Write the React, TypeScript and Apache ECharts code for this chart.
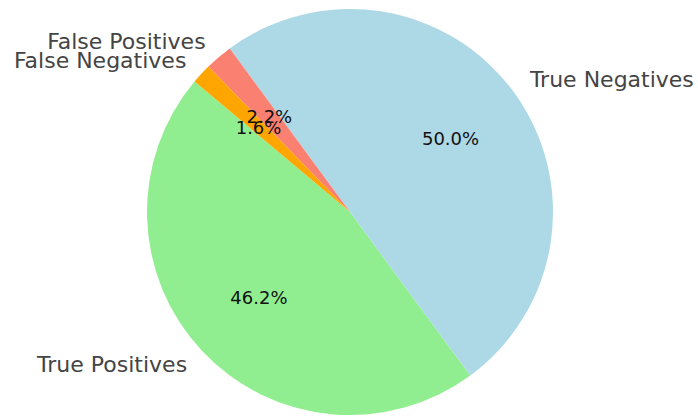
import React, { useEffect, useRef } from "react";
import * as echarts from "echarts";

const categories = ["True Positives", "True Negatives", "False Positives", "False Negatives"];
const values = [46.2, 50.0, 2.2, 1.6];
const colors = ["#90EE90", "#ADD8E6", "#FA8072", "#FFA500"];

const W = 698;
const H = 417;
const CX = 350;
const CY = 212;
const R = 203;

export default function App() {
  const ref = useRef<HTMLDivElement>(null);
  useEffect(() => {
    if (!ref.current) return;
    const chart = echarts.init(ref.current, undefined, { renderer: "svg" });
    const data = categories.map((name, i) => ({
      name,
      value: values[i],
      itemStyle: { color: colors[i] },
    }));
    chart.setOption({
      animation: false,
      backgroundColor: "#ffffff",
      series: [
        {
          type: "pie",
          center: [CX, CY],
          radius: [0, R],
          startAngle: 140,
          clockwise: false,
          avoidLabelOverlap: false,
          silent: true,
          data,
          label: {
            show: true,
            position: "outside",
            formatter: "{b}",
            fontFamily: "DejaVu Sans",
            fontSize: 22,
            color: "#444444",
            distanceToLabelLine: 0,
          },
          labelLayout: { hideOverlap: false },
          labelLine: { show: false, length: R * 0.1, length2: 0 },
          itemStyle: { borderWidth: 0 },
        },
        {
          type: "pie",
          center: [CX, CY],
          radius: [0, R * 1.2],
          startAngle: 140,
          clockwise: false,
          avoidLabelOverlap: false,
          silent: true,
          data: categories.map((name, i) => ({
            name,
            value: values[i],
            itemStyle: { color: "rgba(0,0,0,0)" },
          })),
          label: {
            show: true,
            position: "inside",
            formatter: (p: any) => p.percent.toFixed(1) + "%",
            fontFamily: "DejaVu Sans",
            fontSize: 18,
            color: "#111111",
          },
          labelLayout: { hideOverlap: false },
          labelLine: { show: false },
          itemStyle: { borderWidth: 0 },
        },
      ],
    });
    return () => chart.dispose();
  }, []);
  return (
    <div
      ref={ref}
      style={{ position: "fixed", left: 0, top: 0, width: W, height: H, background: "#fff" }}
    />
  );
}
